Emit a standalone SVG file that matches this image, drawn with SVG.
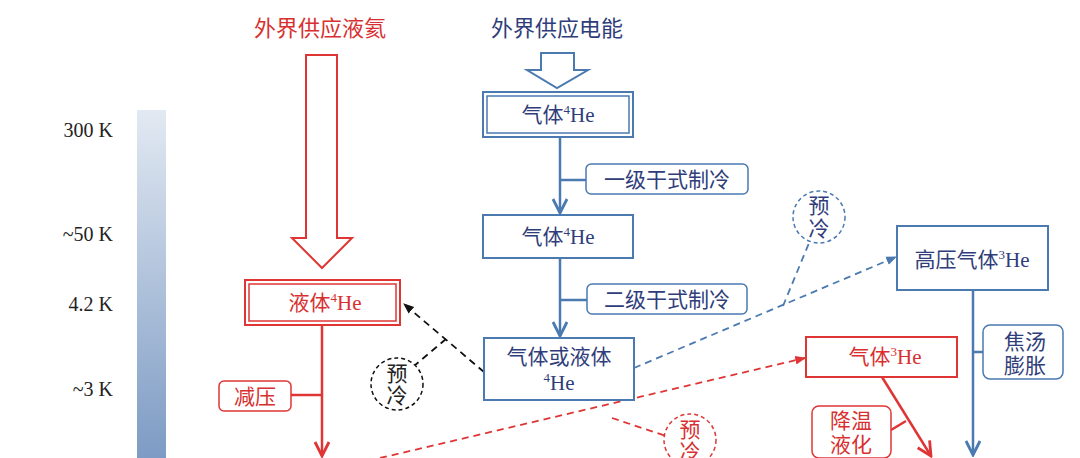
<svg xmlns="http://www.w3.org/2000/svg" width="1080" height="458" viewBox="0 0 1080 458">
<defs>
<linearGradient id="g" x1="0" y1="0" x2="0" y2="1"><stop offset="0" stop-color="#e2e9f2"/><stop offset="1" stop-color="#7d9bc4"/></linearGradient>
<marker id="ab" viewBox="0 0 10 10" refX="9" refY="5" markerWidth="7" markerHeight="7" orient="auto"><path d="M1 1L9 5L1 9" fill="none" stroke="#4a7ab0" stroke-width="1.6"/></marker>
<marker id="ar" viewBox="0 0 10 10" refX="9" refY="5" markerWidth="7" markerHeight="7" orient="auto"><path d="M1 1L9 5L1 9" fill="none" stroke="#e03535" stroke-width="1.6"/></marker>
<marker id="fb" viewBox="0 0 10 10" refX="9" refY="5" markerWidth="6" markerHeight="6" orient="auto"><path d="M0 1L10 5L0 9Z" fill="#4a7ab0"/></marker>
<marker id="fr" viewBox="0 0 10 10" refX="9" refY="5" markerWidth="6" markerHeight="6" orient="auto"><path d="M0 1L10 5L0 9Z" fill="#e03535"/></marker>
<marker id="fk" viewBox="0 0 10 10" refX="9" refY="5" markerWidth="6" markerHeight="6" orient="auto"><path d="M0 1L10 5L0 9Z" fill="#111"/></marker>
</defs>
<style>
text{font-family:"Liberation Serif","Noto Sans CJK SC",serif;}
.t{font-size:21px;text-anchor:middle}
.kl{font-size:20px;text-anchor:end;fill:#222}
.b{fill:#2f3d7a}.r{fill:#d83030}.k{fill:#222}
.bb{fill:#fff;stroke:#4a7ab0;stroke-width:2}
.rb{fill:#fff;stroke:#e03535;stroke-width:2}
.lb{fill:#fff;stroke:#4a7ab0;stroke-width:1.5}
.lr{fill:#fff;stroke:#e03535;stroke-width:1.5}
.sb{stroke:#4a7ab0;stroke-width:2.5;fill:none}
.sr{stroke:#e03535;stroke-width:2.5;fill:none}
.db{stroke:#4a7ab0;stroke-width:1.8;stroke-dasharray:7 5;fill:none}
.dr{stroke:#e03535;stroke-width:1.8;stroke-dasharray:7 5;fill:none}
.dk{stroke:#111;stroke-width:1.8;stroke-dasharray:7 5;fill:none}
</style>
<rect width="1080" height="458" fill="#fff"/>
<rect x="137" y="110" width="29" height="348" fill="url(#g)"/>
<text x="113" y="137" class="kl">300 K</text>
<text x="113" y="241" class="kl">~50 K</text>
<text x="113" y="311" class="kl">4.2 K</text>
<text x="113" y="396" class="kl">~3 K</text>
<text x="320" y="36" class="t r" style="font-size:22px">外界供应液氦</text>
<text x="557" y="36" class="t b" style="font-size:22px">外界供应电能</text>
<path d="M306 55H337V238H352L322 268L292 238H306Z" fill="#fff" stroke="#e03535" stroke-width="2"/>
<path d="M541 53H574V70H588L557 88L527 70H541Z" fill="#fff" stroke="#4a7ab0" stroke-width="2"/>
<g id="connectors">
<path class="sb" d="M560 137V213" marker-end="url(#ab)"/>
<path class="sb" d="M560 180H586"/>
<path class="sb" d="M560 258V336" marker-end="url(#ab)"/>
<path class="sb" d="M560 300H587"/>
<path class="sr" d="M322 325V456" marker-end="url(#ar)"/>
<path class="sr" d="M291 395H322"/>
<path class="dk" d="M484 372L404 304" marker-end="url(#fk)"/>
<path class="dk" d="M446 339L414 366"/>
<path class="db" d="M634 368L896 257" marker-end="url(#fb)"/>
<path class="db" d="M783 306L809 243"/>
<path class="sb" d="M973 290V455" marker-end="url(#ab)"/>
<path class="sb" d="M973 352H983"/>
<path class="dr" d="M380 458L805 358" marker-end="url(#fr)"/>
<path class="dr" d="M612 418L666 436"/>
<path class="sr" d="M882 377L931 456" marker-end="url(#ar)"/>
<path class="sr" d="M891 430L906 421"/>
</g>
<g id="n1"><rect class="bb" x="483" y="92" width="150" height="45"/><rect x="487" y="96" width="142" height="37" fill="none" stroke="#4a7ab0" stroke-width="1.5"/><text x="558" y="122" class="t b">气体<tspan font-size="13" dy="-8">4</tspan><tspan dy="8">He</tspan></text></g>
<g id="l1"><rect class="lb" x="586" y="164" width="162" height="30" rx="5"/><text x="667" y="187" class="t b">一级干式制冷</text></g>
<g id="n2"><rect class="bb" x="483" y="215" width="150" height="43"/><text x="558" y="244" class="t b">气体<tspan font-size="13" dy="-8">4</tspan><tspan dy="8">He</tspan></text></g>
<g id="l2"><rect class="lb" x="587" y="284" width="160" height="30" rx="5"/><text x="667" y="307" class="t b">二级干式制冷</text></g>
<g id="n3"><rect class="bb" x="484" y="338" width="150" height="62"/><text x="559" y="364" class="t b">气体或液体</text><text x="559" y="390" class="t b"><tspan font-size="13" dy="-8">4</tspan><tspan dy="8">He</tspan></text></g>
<g id="n4"><rect class="rb" x="245" y="280" width="155" height="45"/><rect x="249" y="284" width="147" height="37" fill="none" stroke="#e03535" stroke-width="1.5"/><text x="325" y="310" class="t r">液体<tspan font-size="13" dy="-8">4</tspan><tspan dy="8">He</tspan></text></g>
<g id="l3"><rect class="lr" x="219" y="381" width="72" height="30" rx="5"/><text x="255" y="404" class="t r">减压</text></g>
<g id="c1"><circle cx="397" cy="384" r="26" fill="#fff" stroke="#111" stroke-width="1.5" stroke-dasharray="4 3"/><text x="397" y="381" class="t k">预</text><text x="397" y="403" class="t k">冷</text></g>
<g id="c2"><circle cx="819" cy="217" r="26" fill="#fff" stroke="#4a7ab0" stroke-width="1.5" stroke-dasharray="4 3"/><text x="819" y="213" class="t b">预</text><text x="819" y="236" class="t b">冷</text></g>
<g id="c3"><circle cx="690" cy="440" r="26" fill="#fff" stroke="#e03535" stroke-width="1.5" stroke-dasharray="4 3"/><text x="690" y="437" class="t r">预</text><text x="690" y="459" class="t r">冷</text></g>
<g id="n5"><rect class="bb" x="897" y="226" width="151" height="64"/><text x="972" y="267" class="t b">高压气体<tspan font-size="13" dy="-8">3</tspan><tspan dy="8">He</tspan></text></g>
<g id="l4"><rect class="lb" x="983" y="325" width="80" height="54" rx="7"/><text x="1025" y="349" class="t b">焦汤</text><text x="1025" y="373" class="t b">膨胀</text></g>
<g id="n6"><rect class="rb" x="806" y="337" width="151" height="40"/><text x="885" y="364" class="t r">气体<tspan font-size="13" dy="-8">3</tspan><tspan dy="8">He</tspan></text></g>
<g id="l5"><rect class="lr" x="812" y="406" width="79" height="52" rx="7"/><text x="851" y="428" class="t r">降温</text><text x="851" y="452" class="t r">液化</text></g>
</svg>
